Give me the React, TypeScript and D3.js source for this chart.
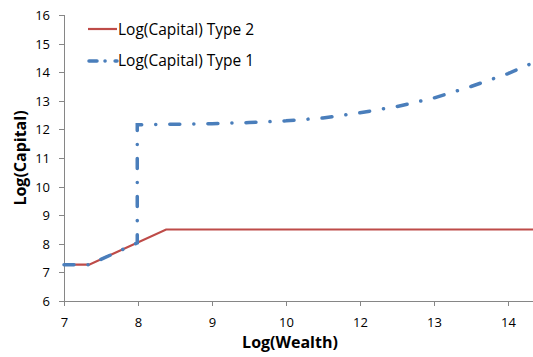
import React from "react";
import * as d3 from "d3";

// x positions are in axis units (category labels skip 11)
const xTickValues = [7, 8, 9, 10, 11, 12, 13];
const xTickLabels = ["7", "8", "9", "10", "12", "13", "14"];
const yTickValues = [6, 7, 8, 9, 10, 11, 12, 13, 14, 15, 16];

const type2X = [7, 7.34, 8.38, 13.34];
const type2Y = [7.27, 7.27, 8.5, 8.5];

const type1X = [7, 7.34, 7.99, 7.99, 8.5, 9, 9.5, 10, 10.5, 11, 11.5, 12, 12.5, 13, 13.34];
const type1Y = [7.27, 7.27, 8.03, 12.16, 12.18, 12.2, 12.24, 12.3, 12.4, 12.58, 12.8, 13.1, 13.5, 13.95, 14.33];

const seriesNames = ["Log(Capital) Type 2", "Log(Capital) Type 1"];

export default function App() {
  const width = 533;
  const height = 357;
  const margin = { top: 15, right: 0, bottom: 56, left: 64 };
  const innerW = width - margin.left - margin.right;
  const innerH = height - margin.top - margin.bottom;

  const x = d3.scaleLinear().domain([7, 7 + innerW / 74]).range([0, innerW]);
  const y = d3.scaleLinear().domain([6, 16]).range([innerH, 0]);

  const line = d3.line<[number, number]>().x(d => x(d[0])).y(d => y(d[1]));
  const red = line(type2X.map((v, i) => [v, type2Y[i]]) as [number, number][]) || "";
  const blue = line(type1X.map((v, i) => [v, type1Y[i]]) as [number, number][]) || "";

  const font = "'Open Sans', 'Liberation Sans', sans-serif";
  const axisColor = "#868686";
  const redColor = "#be4b48";
  const blueColor = "#4a7ebb";
  const dash = "10,14,0.1,14";

  return (
    <svg width={width} height={height} style={{ position: "absolute", left: 0, top: 0 }} fontFamily={font}>
      <rect width={width} height={height} fill="white" />
      <g transform={`translate(${margin.left},${margin.top})`}>
        {/* y axis */}
        <line x1={0.5} x2={0.5} y1={0} y2={innerH} stroke={axisColor} />
        {yTickValues.map(t => (
          <g key={t} transform={`translate(0,${Math.round(y(t)) + 0.5})`}>
            <line x1={-5} x2={0} stroke={axisColor} />
            <text x={-14} dy="0.35em" textAnchor="end" fontSize={13} fill="#000">{t}</text>
          </g>
        ))}
        {/* x axis */}
        <line x1={0} x2={innerW} y1={innerH + 0.5} y2={innerH + 0.5} stroke={axisColor} />
        {xTickValues.map((t, i) => (
          <g key={t} transform={`translate(${Math.round(x(t)) + 0.5},${innerH})`}>
            <line y1={0} y2={5} stroke={axisColor} />
            <text y={26} textAnchor="middle" fontSize={13} fill="#000">{xTickLabels[i]}</text>
          </g>
        ))}
        <path d={red} fill="none" stroke={redColor} strokeWidth={2.2} />
        <path d={blue} fill="none" stroke={blueColor} strokeWidth={3.5} strokeDasharray={dash} strokeLinecap="round" />
      </g>
      {/* legend */}
      <line x1={88} x2={117} y1={29} y2={29} stroke={redColor} strokeWidth={2.2} />
      <text x={118} y={35} fontSize={15.5} fill="#000">{seriesNames[0]}</text>
      <line x1={89} x2={117} y1={61} y2={61} stroke={blueColor} strokeWidth={3.5} strokeDasharray="8,8,0.1,10" strokeLinecap="round" />
      <text x={118} y={66} fontSize={15.5} fill="#000">{seriesNames[1]}</text>
      {/* axis titles */}
      <text x={290} y={348} textAnchor="middle" fontSize={16} fontWeight="bold" fill="#000">Log(Wealth)</text>
      <text transform="translate(26,158) rotate(-90)" textAnchor="middle" fontSize={16} fontWeight="bold" fill="#000">Log(Capital)</text>
    </svg>
  );
}
